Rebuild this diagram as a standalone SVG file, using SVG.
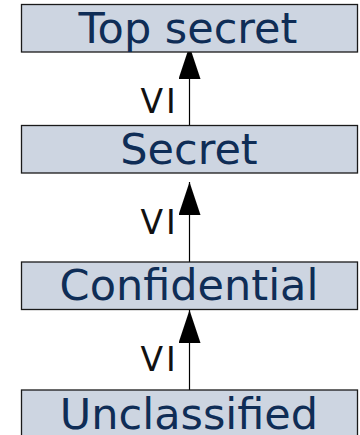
<svg xmlns="http://www.w3.org/2000/svg" width="360" height="435" viewBox="0 0 360 435">
  <style>
    .box { fill: #cdd5e1; stroke: #1a1a1a; stroke-width: 1.3; }
    .name { font-family: "DejaVu Sans", sans-serif; font-size: 43px; fill: #0f2d56; text-anchor: middle; }
    .rel { font-family: "DejaVu Sans", sans-serif; font-size: 33px; fill: #111; letter-spacing: 3px; }
    .edge { stroke: #000; stroke-width: 1.2; fill: none; marker-end: url(#head); }
  </style>
  <defs>
    <!-- filled triangular head, tip at the end of the path -->
    <marker id="head" viewBox="0 0 33 22" refX="33" refY="11" markerWidth="33" markerHeight="22" markerUnits="userSpaceOnUse" orient="auto">
      <path d="M33 11 L0 0 L0 22 Z" fill="#000"/>
    </marker>
  </defs>
  <rect width="360" height="435" fill="#fff"/>

  <!-- dominance edges: lower level points up to the level above -->
  <g id="connectors">
    <path class="edge" d="M189.5 125 V46"/>
    <path class="edge" d="M189.5 262 V182"/>
    <path class="edge" d="M189.5 390 V310"/>
    <text class="rel" x="140.5" y="113.3">VI</text>
    <text class="rel" x="140.5" y="234.3">VI</text>
    <text class="rel" x="140.5" y="370.7">VI</text>
  </g>

  <g id="top-secret">
    <rect class="box" x="21.5" y="4.5" width="336" height="47.5"/>
    <text class="name" x="188" y="42.7">Top secret</text>
  </g>
  <g id="secret">
    <rect class="box" x="21.5" y="125.5" width="336" height="47.5"/>
    <text class="name" x="189" y="163.5">Secret</text>
  </g>
  <g id="confidential">
    <rect class="box" x="21.5" y="262" width="336" height="47.5"/>
    <text class="name" x="189" y="300.3">Confidential</text>
  </g>
  <g id="unclassified">
    <rect class="box" x="21.5" y="390" width="336" height="60"/>
    <text class="name" x="189" y="428.5">Unclassified</text>
  </g>
</svg>
